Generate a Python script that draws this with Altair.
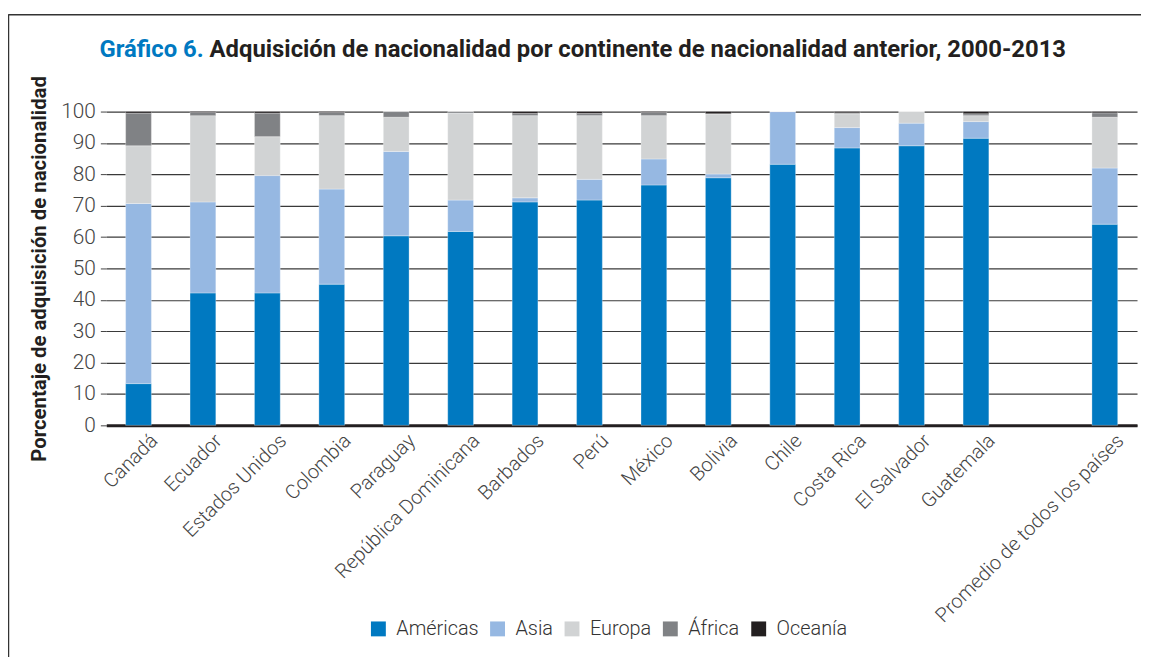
import altair as alt
import pandas as pd

categories = ["Canadá", "Ecuador", "Estados Unidos", "Colombia", "Paraguay",
              "República Dominicana", "Barbados", "Perú", "México", "Bolivia",
              "Chile", "Costa Rica", "El Salvador", "Guatemala", " ",
              "Promedio de todos los países"]
bar_categories = [c for c in categories if c != " "]

continents = ["Américas", "Asia", "Europa", "África", "Oceanía"]
colors = ["#0079c1", "#96b8e2", "#d1d3d4", "#808285", "#231f20"]

americas = [13.3, 42.2, 42.2, 45.0, 60.4, 61.8, 71.2, 71.8, 76.6, 78.9, 83.2, 88.4, 89.1, 91.5, 64.1]
asia     = [57.4, 29.0, 37.4, 30.3, 26.9, 10.0, 1.3, 6.6, 8.3, 1.2, 16.8, 6.5, 7.2, 5.3, 17.9]
europa   = [18.4, 27.5, 12.4, 23.4, 10.9, 27.7, 26.2, 20.3, 13.8, 19.2, 0.0, 4.4, 3.7, 1.9, 16.2]
africa   = [10.4, 1.0, 7.5, 1.0, 1.8, 0.5, 0.7, 0.7, 1.0, 0.0, 0.0, 0.3, 0.0, 0.6, 1.4]
oceania  = [0.5, 0.3, 0.5, 0.3, 0.0, 0.0, 0.6, 0.6, 0.3, 0.7, 0.0, 0.4, 0.0, 0.7, 0.4]

series = [americas, asia, europa, africa, oceania]
rows = []
for ci, (cont, vals) in enumerate(zip(continents, series)):
    for cat, v in zip(bar_categories, vals):
        rows.append({"pais": cat, "continente": cont, "valor": v, "orden": ci})
df = pd.DataFrame(rows)

FONT = "Roboto"

bars = alt.Chart(df).mark_bar(stroke="white", strokeWidth=0.6, strokeOpacity=0.5).encode(
    x=alt.X("pais:N", sort=categories,
            scale=alt.Scale(domain=categories, paddingInner=0.6, paddingOuter=0.3),
            axis=alt.Axis(title=None, labelAngle=-45, labelAlign="right", labelBaseline="top",
                          labelFontSize=20, labelFont=FONT, labelFontWeight=300,
                          labelColor="#444444", ticks=False, domainColor="#231f20",
                          domainWidth=3, labelPadding=5, labelOffset=9, labelLimit=400,
                          grid=False)),
    y=alt.Y("valor:Q", stack="zero",
            scale=alt.Scale(domain=[0, 100], nice=False),
            axis=alt.Axis(title="Porcentaje de adquisición de nacionalidad",
                          values=list(range(0, 101, 10)), titleFont=FONT,
                          titleFontSize=20.5, titleFontWeight="bold", titleColor="#231f20",
                          titlePadding=11, labelFont=FONT, labelFontSize=21,
                          labelFontWeight=300, labelColor="#444444", labelPadding=5,
                          tickSize=6, tickColor="#444444", domain=False,
                          gridColor="#3a3a3a", gridWidth=1.2)),
    color=alt.Color("continente:N", sort=continents,
                    scale=alt.Scale(domain=continents, range=colors),
                    legend=alt.Legend(title=None, orient="none", direction="horizontal",
                                      legendX=264, legendY=511, symbolType="square",
                                      symbolSize=225, symbolStrokeWidth=0,
                                      labelFont=FONT, labelFontSize=20, labelFontWeight=300,
                                      labelColor="#333333", columnPadding=9,
                                      labelOffset=8, padding=0)),
    order=alt.Order("orden:Q", sort="ascending"),
)

dummy = pd.DataFrame({"a": [0]})
title_blue = alt.Chart(dummy).mark_text(
    align="right", baseline="middle", font=FONT, fontSize=24, fontWeight="bold",
    color="#0079c1").encode(x=alt.value(98), y=alt.value(-62), text=alt.value("Gráfico 6."))
title_black = alt.Chart(dummy).mark_text(
    align="left", baseline="middle", font=FONT, fontSize=24, fontWeight="bold",
    color="#231f20").encode(
    x=alt.value(104), y=alt.value(-62),
    text=alt.value("Adquisición de nacionalidad por continente de nacionalidad anterior, 2000-2013"))

frame_top = alt.Chart(dummy).mark_rule(color="#333333", strokeWidth=1.5).encode(
    x=alt.value(-98.5), x2=alt.value(1045), y=alt.value(-97.5))
frame_left = alt.Chart(dummy).mark_rule(color="#333333", strokeWidth=1.5).encode(
    x=alt.value(-98.5), y=alt.value(-98), y2=alt.value(560))

chart = alt.layer(bars, title_blue, title_black, frame_top, frame_left).properties(
    width=1038, height=316,
    autosize=alt.AutoSizeParams(type="none"),
    padding={"left": 99, "top": 102, "right": 4, "bottom": 231},
).configure_view(stroke=None)

chart.save("out.html", embed_options={"renderer": "svg", "actions": False})
